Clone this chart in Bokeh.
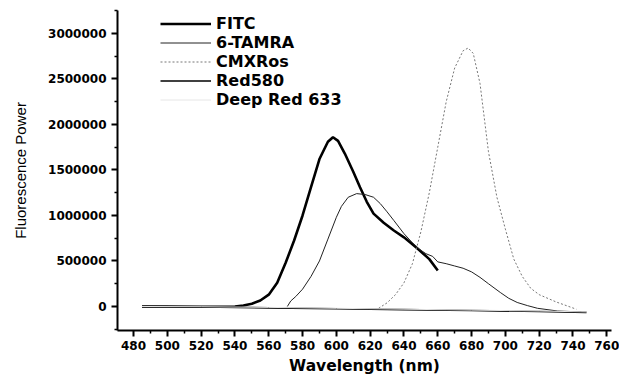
from bokeh.plotting import figure
from bokeh.models import Range1d, FixedTicker, PrintfTickFormatter, Legend, LegendItem
from bokeh.embed import file_html
from bokeh.resources import INLINE

# ---- data ----
fitc_nm = [485, 500, 520, 540, 545, 550, 555, 560, 565, 570, 575, 580, 585, 590, 595, 598,
           601, 605, 610, 614, 618, 622, 628, 634, 640, 648, 655, 660]
fitc = [0, 0, -3000, 0, 10000, 30000, 66000, 130000, 260000, 480000, 725000, 1000000,
        1310000, 1620000, 1810000, 1860000, 1820000, 1680000, 1480000, 1310000, 1150000,
        1020000, 920000, 835000, 760000, 637000, 520000, 396000]

tamra_nm = [571, 573, 576, 580, 585, 590, 595, 600, 603, 607, 612, 617, 622, 626, 630, 634,
            640, 645, 649, 653, 657, 660, 665, 670, 675, 680, 685, 690, 697, 702, 707, 713,
            719, 731, 745]
tamra = [0, 60000, 110000, 190000, 330000, 500000, 740000, 980000, 1100000, 1200000,
         1240000, 1230000, 1200000, 1130000, 1040000, 945000, 800000, 700000, 630000,
         580000, 550000, 490000, 470000, 445000, 420000, 380000, 320000, 250000, 154000,
         90000, 44000, 10000, -20000, -50000, -60000]

cmx_nm = [625, 630, 635, 640, 645, 650, 655, 660, 665, 670, 675, 678, 681, 685, 690, 695,
          700, 705, 710, 715, 720, 730, 742]
cmx = [-20000, 40000, 130000, 260000, 470000, 820000, 1250000, 1750000, 2250000, 2620000,
       2810000, 2840000, 2780000, 2450000, 1700000, 1200000, 850000, 520000, 330000,
       200000, 130000, 50000, -30000]

red580_nm = [485, 520, 560, 600, 640, 680, 720, 748]
red580 = [0, -5000, -15000, -25000, -35000, -45000, -55000, -65000]

deepred_nm = [485, 520, 560, 600, 640, 680, 720, 748]
deepred = [0, -3000, -10000, -20000, -30000, -40000, -50000, -60000]

x_major = [480, 500, 520, 540, 560, 580, 600, 620, 640, 660, 680, 700, 720, 740, 760]
x_minor = [470, 490, 510, 530, 550, 570, 590, 610, 630, 650, 670, 690, 710, 730, 750]
y_major = [0, 500000, 1000000, 1500000, 2000000, 2500000, 3000000]
y_minor = [-250000, 250000, 750000, 1250000, 1750000, 2250000, 2750000, 3250000]

p = figure(width=619, height=377, output_backend="svg", toolbar_location=None,
           x_range=Range1d(470.5, 762.8), y_range=Range1d(-264000, 3252000),
           min_border_left=117, min_border_right=8, min_border_top=10, min_border_bottom=47)
p.outline_line_color = None
p.xgrid.grid_line_color = None
p.ygrid.grid_line_color = None
p.background_fill_color = "white"

r_fitc = p.line(fitc_nm, fitc, line_color="black", line_width=2.6)
r_tamra = p.line(tamra_nm, tamra, line_color="#222222", line_width=1)
r_cmx = p.line(cmx_nm, cmx, line_color="#777777", line_width=1, line_dash="2 2")
r_red = p.line(red580_nm, red580, line_color="black", line_width=1.6)
r_deep = p.line(deepred_nm, deepred, line_color="#e6e6e6", line_width=1)

legend = Legend(items=[
    LegendItem(label="FITC", renderers=[r_fitc]),
    LegendItem(label="6-TAMRA", renderers=[r_tamra]),
    LegendItem(label="CMXRos", renderers=[r_cmx]),
    LegendItem(label="Red580", renderers=[r_red]),
    LegendItem(label="Deep Red 633", renderers=[r_deep]),
], location=(43, 221), border_line_color=None, background_fill_alpha=0,
    padding=0, margin=0, spacing=0, glyph_width=51, glyph_height=19, label_height=19,
    label_standoff=5, label_text_font="DejaVu Sans", label_text_font_style="bold",
    label_text_font_size="16px", label_text_color="black")
p.add_layout(legend, "center")

for ax in (p.xaxis[0], p.yaxis[0]):
    ax.axis_line_color = "black"
    ax.axis_line_width = 2
    ax.major_tick_line_color = "black"
    ax.major_tick_line_width = 2
    ax.minor_tick_line_color = "black"
    ax.minor_tick_line_width = 1.5
    ax.major_tick_out = 6
    ax.major_tick_in = 0
    ax.minor_tick_out = 3
    ax.minor_tick_in = 0
    ax.major_label_text_font = "DejaVu Sans"
    ax.major_label_text_font_style = "bold"
    ax.major_label_text_font_size = "12px"
    ax.major_label_text_color = "black"

p.xaxis[0].ticker = FixedTicker(ticks=x_major, minor_ticks=x_minor)
p.yaxis[0].ticker = FixedTicker(ticks=y_major, minor_ticks=y_minor)
p.yaxis[0].formatter = PrintfTickFormatter(format="%d")
p.xaxis[0].major_label_standoff = 4

p.xaxis[0].axis_label = "Wavelength (nm)"
p.xaxis[0].axis_label_text_font = "DejaVu Sans"
p.xaxis[0].axis_label_text_font_style = "bold"
p.xaxis[0].axis_label_text_font_size = "15.5px"
p.xaxis[0].axis_label_text_color = "black"
p.xaxis[0].axis_label_standoff = 4

p.yaxis[0].axis_label = "Fluorescence Power"
p.yaxis[0].axis_label_text_font = "Liberation Sans"
p.yaxis[0].axis_label_text_font_style = "normal"
p.yaxis[0].axis_label_text_font_size = "15px"
p.yaxis[0].axis_label_text_color = "black"
p.yaxis[0].axis_label_standoff = 16

open("out.html", "w").write(file_html(p, INLINE))
